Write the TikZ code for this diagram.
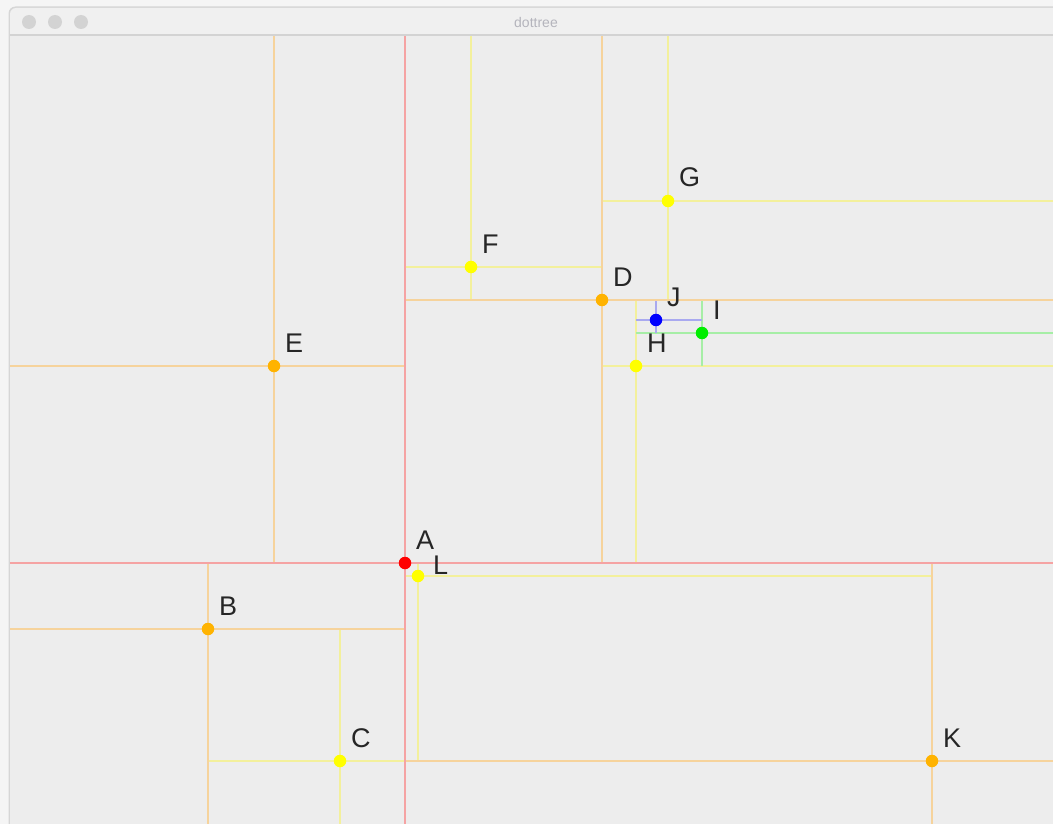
\documentclass[tikz,border=0pt]{standalone}
\usepackage{fontspec}
\setmainfont{Liberation Sans}
\definecolor{pagebg}{HTML}{F5F5F5}
\definecolor{titlebg}{HTML}{F0F0F0}
\definecolor{framec}{HTML}{D6D6D6}
\definecolor{canvasbg}{HTML}{EDEDED}
\definecolor{lightc}{HTML}{D3D3D3}
\definecolor{titletext}{HTML}{B4B4BC}
\definecolor{redline}{HTML}{F5A3A3}
\definecolor{orangeline}{HTML}{F6D39C}
\definecolor{yellowline}{HTML}{F3F09C}
\definecolor{greenline}{HTML}{A6EEA6}
\definecolor{blueline}{HTML}{A9A9F0}
\definecolor{reddot}{HTML}{FF0000}
\definecolor{orangedot}{HTML}{FFB300}
\definecolor{yellowdot}{HTML}{FFFF00}
\definecolor{greendot}{HTML}{00EE00}
\definecolor{bluedot}{HTML}{0000FF}
\tikzset{
  part/.style={line width=2.1pt},
  dot/.style={circle, inner sep=0pt, minimum size=12.5pt, draw=none},
  lbl/.style={anchor=base west, xshift=11pt, yshift=14pt, inner sep=0pt,
              font=\fontsize{27}{27}\selectfont, text=black!85},
  light/.style={circle, inner sep=0pt, minimum size=14pt, fill=lightc}
}
\begin{document}
\begin{tikzpicture}[x=1pt,y=-1pt]
\useasboundingbox (0,0) rectangle (1053,824);
% window chrome
\fill[pagebg] (0,0) rectangle (1053,824);
\fill[framec, rounded corners=7pt] (8.5,840) rectangle (1070,6.5);
\fill[titlebg, rounded corners=6pt] (10,840) rectangle (1070,8);
\fill[lightc] (10,34.5) rectangle (1053,36.5);
\fill[canvasbg] (10,36.5) rectangle (1053,824);
\node[light] (b1) at (29,22) {};
\node[light] (b2) at (55,22) {};
\node[light] (b3) at (81,22) {};
\node[text=titletext, font=\fontsize{14}{14}\selectfont] (title) at (536,22) {dottree};
% frame coordinates
\coordinate (top) at (0,36.5);
\coordinate (bot) at (0,824);
\coordinate (lft) at (10,0);
\coordinate (rgt) at (1053,0);
% points
\coordinate (pA) at (405,563);
\coordinate (pB) at (208,629);
\coordinate (pC) at (340,761);
\coordinate (pD) at (602,300);
\coordinate (pE) at (274,366);
\coordinate (pF) at (471,267);
\coordinate (pG) at (668,201);
\coordinate (pH) at (636,366);
\coordinate (pI) at (702,333);
\coordinate (pJ) at (656,320);
\coordinate (pK) at (932,761);
\coordinate (pL) at (418,576);
% partition lines
\draw[part, yellowline] (pC|-pB) -- (pC|-bot);
\draw[part, yellowline] (pB|-pC) -- (pA|-pC);
\draw[part, yellowline] (pF|-top) -- (pF|-pD);
\draw[part, yellowline] (pA|-pF) -- (pD|-pF);
\draw[part, yellowline] (pG|-top) -- (pG|-pD);
\draw[part, yellowline] (pD|-pG) -- (rgt|-pG);
\draw[part, yellowline] (pH|-pD) -- (pH|-pA);
\draw[part, yellowline] (pD|-pH) -- (rgt|-pH);
\draw[part, yellowline] (pL|-pA) -- (pL|-pK);
\draw[part, yellowline] (pA|-pL) -- (pK|-pL);
\draw[part, greenline] (pI|-pD) -- (pI|-pH);
\draw[part, greenline] (pH|-pI) -- (rgt|-pI);
\draw[part, blueline] (pJ|-pD) -- (pJ|-pI);
\draw[part, blueline] (pH|-pJ) -- (pI|-pJ);
\draw[part, orangeline] (pB|-pA) -- (pB|-bot);
\draw[part, orangeline] (lft|-pB) -- (pA|-pB);
\draw[part, orangeline] (pE|-top) -- (pE|-pA);
\draw[part, orangeline] (lft|-pE) -- (pA|-pE);
\draw[part, orangeline] (pD|-top) -- (pD|-pA);
\draw[part, orangeline] (pA|-pD) -- (rgt|-pD);
\draw[part, orangeline] (pK|-pA) -- (pK|-bot);
\draw[part, orangeline] (pA|-pK) -- (rgt|-pK);
\draw[part, redline] (pA|-top) -- (pA|-bot);
\draw[part, redline] (lft|-pA) -- (rgt|-pA);
% dots
\node[dot, fill=reddot] (A) at (pA) {};
\node[dot, fill=orangedot] (B) at (pB) {};
\node[dot, fill=yellowdot] (C) at (pC) {};
\node[dot, fill=orangedot] (D) at (pD) {};
\node[dot, fill=orangedot] (E) at (pE) {};
\node[dot, fill=yellowdot] (F) at (pF) {};
\node[dot, fill=yellowdot] (G) at (pG) {};
\node[dot, fill=yellowdot] (H) at (pH) {};
\node[dot, fill=greendot] (I) at (pI) {};
\node[dot, fill=bluedot] (J) at (pJ) {};
\node[dot, fill=orangedot] (K) at (pK) {};
\node[dot, fill=yellowdot] (L) at (pL) {};
% labels
\node[lbl] (lA) at (pA) {A};
\node[lbl] (lB) at (pB) {B};
\node[lbl] (lC) at (pC) {C};
\node[lbl] (lD) at (pD) {D};
\node[lbl] (lE) at (pE) {E};
\node[lbl] (lF) at (pF) {F};
\node[lbl] (lG) at (pG) {G};
\node[lbl] (lH) at (pH) {H};
\node[lbl] (lI) at (pI) {I};
\node[lbl] (lJ) at (pJ) {J};
\node[lbl] (lK) at (pK) {K};
\node[lbl, xshift=4pt, yshift=-12pt] (lL) at (pL) {L};
\end{tikzpicture}
\end{document}
